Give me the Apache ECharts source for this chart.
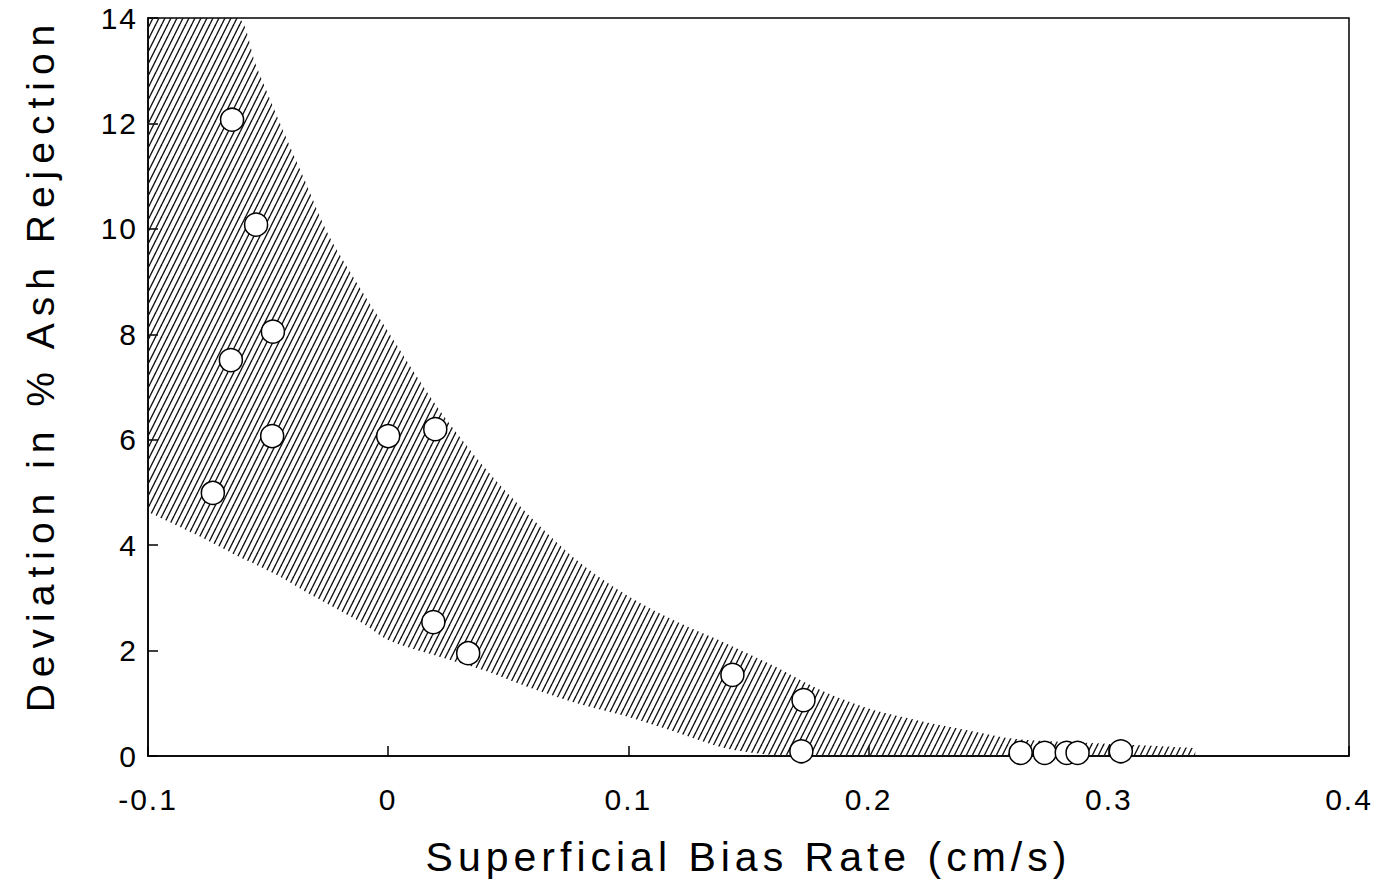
<!DOCTYPE html>
<html>
<head>
<meta charset="utf-8">
<script src="https://cdn.jsdelivr.net/npm/echarts@6/dist/echarts.min.js"></script>
<style>
  html, body { margin: 0; padding: 0; background: #fff; }
  #chart { width: 1386px; height: 887px; }
  #chart svg text[style*="41px"] { letter-spacing: 5px; }
  #chart svg text[style*="39px"] { letter-spacing: 7px; }
  #chart svg text[style*="30px"] { letter-spacing: 2px; }
</style>
</head>
<body>
<div id="chart"></div>
<script>
// Band boundary x positions (cm/s)
const bandX = [-0.1, -0.08, -0.063, -0.055, -0.045, -0.035, -0.025, -0.01, 0, 0.02, 0.04, 0.06, 0.08, 0.1, 0.12, 0.14, 0.16, 0.18, 0.2, 0.22, 0.24, 0.26, 0.28, 0.3, 0.32, 0.336];
// Upper boundary of hatched band (% deviation), clipped at the chart top
const bandUpper = [14, 14, 14, 13.1, 12.0, 10.95, 9.9, 8.75, 8.05, 6.65, 5.48, 4.5, 3.66, 3.03, 2.55, 2.15, 1.72, 1.25, 0.9, 0.68, 0.5, 0.33, 0.27, 0.23, 0.19, 0.15];
// Lower boundary of hatched band
const bandLower = [4.63, 4.2, 3.8, 3.63, 3.4, 3.13, 2.88, 2.5, 2.2, 1.9, 1.62, 1.28, 0.98, 0.74, 0.45, 0.15, 0.02, 0, 0, 0, 0, 0, 0, 0, 0, 0];

// Measured points
const pointX = [-0.065, -0.055, -0.048, -0.0655, -0.0483, -0.073, 0.0, 0.0196, 0.0188, 0.0333, 0.1433, 0.1729, 0.172, 0.2633, 0.2733, 0.2825, 0.287, 0.305];
const pointY = [12.07, 10.08, 8.05, 7.51, 6.07, 4.99, 6.07, 6.2, 2.54, 1.95, 1.54, 1.06, 0.09, 0.06, 0.06, 0.06, 0.06, 0.09];

const xTitle = 'Superficial Bias Rate (cm/s)';
const yTitle = 'Deviation in % Ash Rejection';

// hatch pattern tile
const tile = document.createElement('canvas');
tile.width = 6; tile.height = 12;
const tctx = tile.getContext('2d');
tctx.strokeStyle = '#111';
tctx.lineWidth = 1.4;
for (let k = -1; k <= 1; k++) {
  tctx.beginPath();
  tctx.moveTo(k * 6, 12);
  tctx.lineTo(k * 6 + 6, 0);
  tctx.stroke();
}
const hatch = { image: tile, repeat: 'repeat', imageWidth: 6, imageHeight: 12 };

// value first, x second, so the stack is applied to the y dimension
const lowerData = bandX.map((x, i) => [bandLower[i], x]);
const widthData = bandX.map((x, i) => [bandUpper[i] - bandLower[i], x]);
const points = pointX.map((x, i) => [x, pointY[i]]);

const FONT = '"Liberation Sans", Arial, Helvetica, sans-serif';

const chart = echarts.init(document.getElementById('chart'), null, { renderer: 'svg' });
chart.setOption({
  animation: false,
  backgroundColor: '#fff',
  grid: {
    left: 148, right: 37, top: 18, bottom: 131,
    show: true, borderColor: '#000', borderWidth: 1.5, backgroundColor: 'transparent'
  },
  xAxis: {
    type: 'value', min: -0.1, max: 0.4, interval: 0.1,
    name: xTitle, nameLocation: 'middle', nameGap: 80,
    nameTextStyle: { fontFamily: FONT, fontSize: 41, color: '#000' },
    axisLine: { onZero: false, lineStyle: { color: '#000', width: 1.5 } },
    axisTick: { inside: true, length: 10, lineStyle: { color: '#000', width: 1.5 } },
    axisLabel: { fontFamily: FONT, fontSize: 30, color: '#000', margin: 28,
      formatter: v => (Math.abs(v) < 1e-9 ? '0' : String(Math.round(v * 10) / 10)) },
    splitLine: { show: false }
  },
  yAxis: {
    type: 'value', min: 0, max: 14, interval: 2,
    name: yTitle, nameLocation: 'middle', nameGap: 88, nameRotate: 90,
    nameTextStyle: { fontFamily: FONT, fontSize: 39, color: '#000', padding: [0, 0, 0, 44] },
    axisLine: { onZero: false, lineStyle: { color: '#000', width: 1.5 } },
    axisTick: { inside: true, length: 10, lineStyle: { color: '#000', width: 1.5 } },
    axisLabel: { fontFamily: FONT, fontSize: 30, color: '#000', margin: 10 },
    splitLine: { show: false }
  },
  series: [
    {
      type: 'line', data: lowerData, encode: { x: 1, y: 0 }, stack: 'band', smooth: 0.3,
      symbol: 'none', lineStyle: { opacity: 0 }, silent: true, z: 1
    },
    {
      type: 'line', data: widthData, encode: { x: 1, y: 0 }, stack: 'band', smooth: 0.3,
      symbol: 'none', lineStyle: { opacity: 0 }, silent: true, z: 1,
      areaStyle: { color: hatch, opacity: 1 }
    },
    {
      type: 'scatter', data: points, symbol: 'circle', symbolSize: 23, z: 5,
      itemStyle: { color: '#fff', borderColor: '#000', borderWidth: 1.5, opacity: 1 }
    }
  ]
});
</script>
</body>
</html>
